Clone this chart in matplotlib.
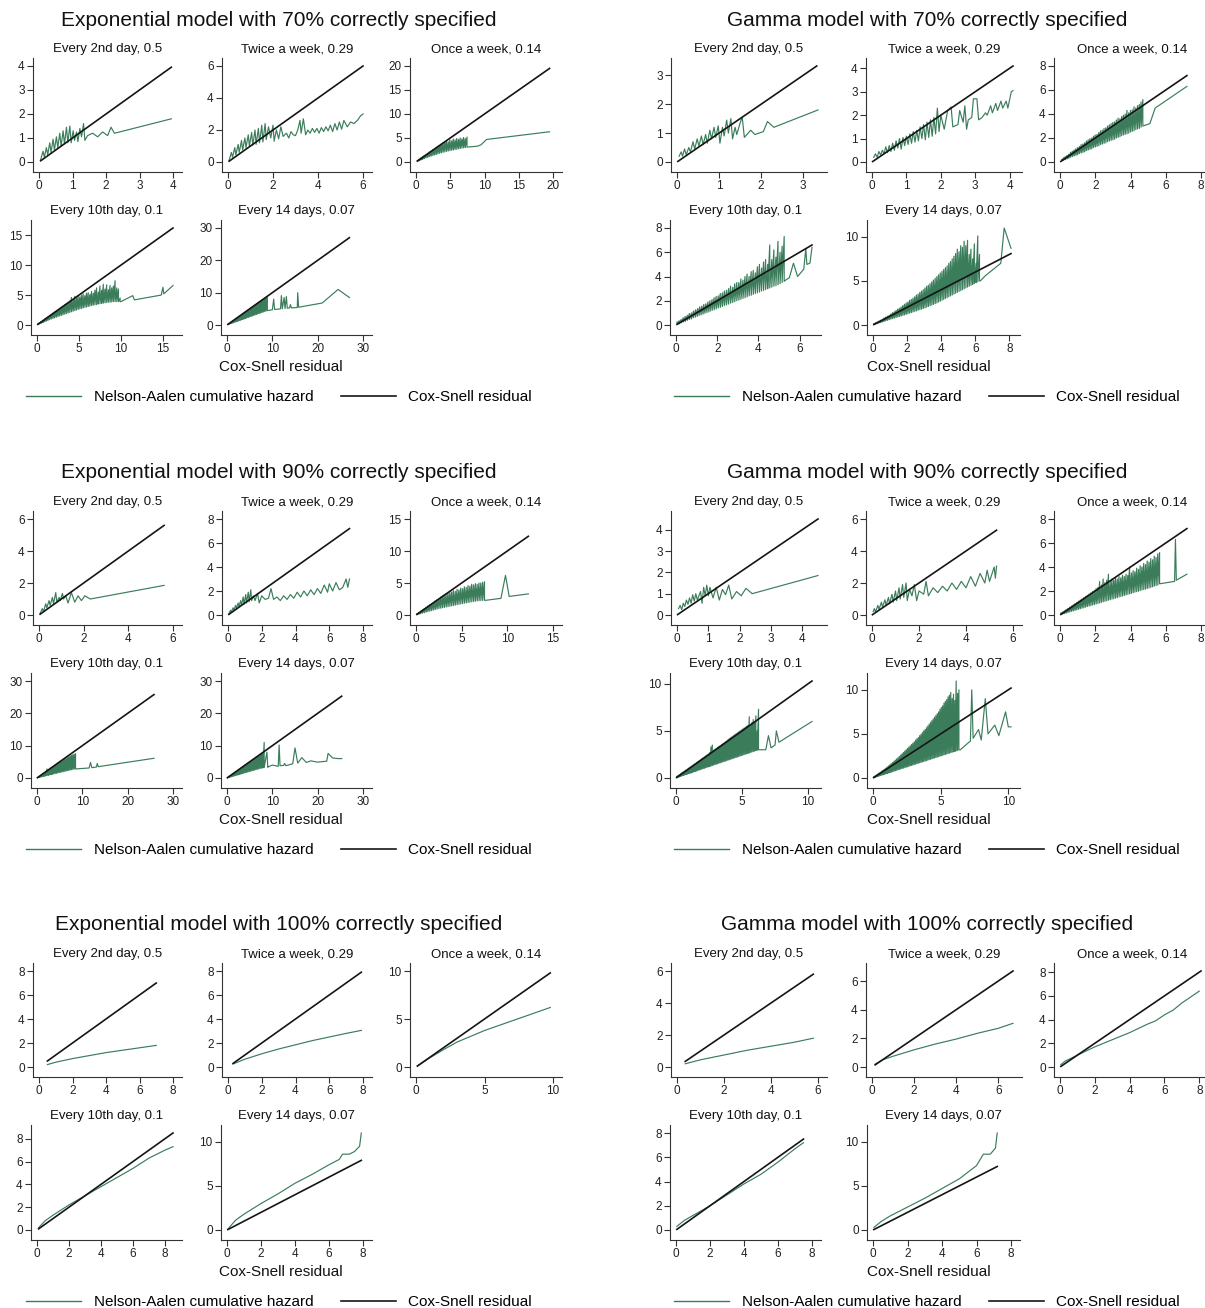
import matplotlib
matplotlib.use("Agg")
import matplotlib.pyplot as plt
from matplotlib.lines import Line2D

plt.rcParams['font.family'] = ['Liberation Sans', 'DejaVu Sans']

W, H = 1205, 1308
GREEN = '#3b7d5b'
BLACK = '#151515'

block_titles = ["Exponential model with 70% correctly specified",
                "Gamma model with 70% correctly specified",
                "Exponential model with 90% correctly specified",
                "Gamma model with 90% correctly specified",
                "Exponential model with 100% correctly specified",
                "Gamma model with 100% correctly specified"]
panel_titles = ["Every 2nd day, 0.5", "Twice a week, 0.29", "Once a week, 0.14",
                "Every 10th day, 0.1", "Every 14 days, 0.07"]

# Nelson-Aalen cumulative hazard against Cox-Snell residual.
# *_teeth: (residual, high, low) for the saw-tooth part, *_tail / plain lists: (residual, hazard)
# *_cs: first and last Cox-Snell residual (reference line y = x)

# ---- exponential, 70% ----
e70_d2 = [(0.05,0.1),(0.12,0.45),(0.16,0.2),(0.22,0.6),(0.26,0.3),(0.32,0.8),(0.36,0.4),(0.42,0.95),
          (0.46,0.5),(0.52,1.05),(0.56,0.6),(0.62,1.2),(0.66,0.65),(0.72,1.3),(0.76,0.75),(0.82,1.45),
          (0.86,0.8),(0.92,1.5),(0.96,0.8),(1.02,1.3),(1.06,0.9),(1.12,1.25),(1.16,0.85),(1.22,1.4),
          (1.27,1.05),(1.33,1.6),(1.37,0.9),(1.45,1.1),(1.6,1.2),(1.75,1.05),(1.9,1.25),(2.05,1.1),
          (2.15,1.45),(2.25,1.2),(2.4,1.25),(3.95,1.8)]
e70_d2_cs = [0.05, 3.95]
e70_d2_ticks = ([0, 1, 2, 3, 4], [0, 1, 2, 3, 4])

e70_tw = [(0.05,0.1),(0.15,0.6),(0.2,0.3),(0.3,0.9),(0.35,0.45),(0.45,1.1),(0.5,0.6),(0.6,1.35),
          (0.65,0.75),(0.75,1.5),(0.8,0.9),(0.9,1.7),(0.95,1.0),(1.05,1.85),(1.1,1.05),(1.2,2.0),
          (1.25,1.1),(1.35,2.1),(1.4,1.2),(1.5,2.3),(1.55,1.25),(1.65,2.4),(1.7,1.4),(1.8,2.2),
          (1.9,1.5),(2.0,2.3),(2.05,1.3),(2.15,2.0),(2.25,1.45),(2.35,2.2),(2.45,1.6),(2.6,1.8),
          (2.7,1.5),(2.8,1.9),(2.9,1.7),(3.0,1.65),(3.1,2.0),(3.2,2.6),(3.25,1.8),(3.35,2.7),
          (3.45,1.7),(3.55,2.0),(3.65,1.8),(3.75,2.1),(3.85,1.85),(3.95,2.1),(4.05,1.8),(4.15,2.15),
          (4.25,1.9),(4.35,2.2),(4.45,1.95),(4.55,2.3),(4.65,1.9),(4.75,2.4),(4.85,2.0),(4.95,2.5),
          (5.05,2.05),(5.15,2.6),(5.3,2.2),(5.45,2.5),(5.6,2.4),(5.75,2.6),(5.9,2.9),(6.0,3.0)]
e70_tw_cs = [0.05, 6.0]
e70_tw_ticks = ([0, 2, 4, 6], [0, 2, 4, 6])

e70_ow_teeth = [(0.2,.3,.1),(0.45,.6,.25),(0.7,.85,.4),(0.95,1.1,.55),(1.2,1.35,.7),(1.45,1.6,.85),
                (1.7,1.8,.95),(1.95,2.1,1.1),(2.2,2.3,1.2),(2.45,2.6,1.35),(2.7,2.8,1.45),(2.95,3.1,1.55),
                (3.2,3.3,1.7),(3.45,3.5,1.8),(3.7,3.8,1.9),(3.95,4.0,2.0),(4.2,4.1,2.1),(4.45,4.4,2.2),
                (4.7,4.2,2.3),(4.95,4.6,2.35),(5.2,4.4,2.45),(5.45,4.8,2.5),(5.7,4.6,2.6),(5.95,4.9,2.65),
                (6.2,4.7,2.75),(6.45,5.0,2.8),(6.7,4.8,2.9),(6.95,5.1,2.95),(7.2,4.9,3.0),(7.45,5.2,3.1)]
e70_ow_tail = [(9.0,3.3),(9.5,3.6),(10.3,4.7),(19.5,6.3)]
e70_ow_cs = [0.2, 19.5]
e70_ow_ticks = ([0, 5, 10, 15, 20], [0, 5, 10, 15, 20])

e70_d10_teeth = [(0.1,.2,.1),(0.3,.4,.2),(0.5,.6,.3),(0.7,.8,.4),(0.9,1.0,.55),(1.1,1.2,.65),(1.3,1.4,.75),
                 (1.5,1.6,.9),(1.7,1.8,1.0),(1.9,2.0,1.1),(2.1,2.2,1.2),(2.3,2.4,1.3),(2.5,2.6,1.4),
                 (2.7,2.8,1.5),(2.9,3.0,1.6),(3.1,3.2,1.7),(3.3,3.4,1.8),(3.5,3.6,1.9),(3.7,3.8,2.0),
                 (3.9,4.0,2.1),(4.1,4.6,2.2),(4.3,4.3,2.3),(4.5,4.8,2.4),(4.7,4.5,2.5),(4.9,4.9,2.6),
                 (5.1,4.7,2.7),(5.3,5.0,2.75),(5.5,5.2,2.85),(5.7,4.9,2.95),(5.9,5.3,3.0),(6.1,5.4,3.1),
                 (6.3,5.1,3.15),(6.5,5.6,3.25),(6.7,5.3,3.3),(6.9,5.8,3.35),(7.1,6.2,3.4),(7.3,5.5,3.5),
                 (7.5,6.5,3.55),(7.7,5.8,3.6),(7.9,6.8,3.65),(8.1,6.0,3.7),(8.3,6.7,3.75),(8.5,5.9,3.8),
                 (8.7,6.6,3.8),(8.9,6.2,3.85),(9.1,6.5,3.9),(9.3,7.4,3.9),(9.5,6.2,3.9),(9.7,6.0,3.9),
                 (9.9,4.5,3.9)]
e70_d10_tail = [(10.0,3.9),(11.4,4.9),(11.6,4.2),(14.8,5.0),(15.0,6.3),(15.1,5.2),(16.2,6.6)]
e70_d10_cs = [0.1, 16.2]
e70_d10_ticks = ([0, 5, 10, 15], [0, 5, 10, 15])

e70_d14_teeth = [(0.2,.2,.1),(0.5,.5,.25),(0.8,.8,.4),(1.1,1.1,.55),(1.4,1.4,.7),(1.7,1.7,.85),(2.0,2.0,1.0),
                 (2.3,2.3,1.15),(2.6,2.6,1.3),(2.9,2.9,1.45),(3.2,3.2,1.6),(3.5,3.5,1.75),(3.8,3.8,1.9),
                 (4.1,4.1,2.05),(4.4,4.4,2.2),(4.7,4.7,2.35),(5.0,5.0,2.5),(5.3,5.3,2.65),(5.6,5.6,2.8),
                 (5.9,5.9,2.95),(6.2,6.2,3.1),(6.5,6.5,3.25),(6.8,6.8,3.4),(7.1,7.1,3.55),(7.4,7.4,3.7),
                 (7.7,7.7,3.85),(8.0,8.0,4.0),(8.3,8.3,4.15),(8.6,8.6,4.3),(8.9,8.8,4.45)]
e70_d14_tail = [(9.1,4.5),(10.0,4.7),(10.3,8.0),(10.5,4.8),(11.8,5.0),(12.0,9.1),(12.2,5.0),(12.6,8.5),
                (12.8,5.1),(13.1,8.8),(13.3,5.2),(13.8,5.3),(14.0,6.3),(14.2,5.3),(15.5,5.4),(15.6,10.0),
                (15.8,5.5),(21.0,6.8),(24.5,11.0),(27.0,8.5)]
e70_d14_cs = [0.2, 27.0]
e70_d14_ticks = ([0, 10, 20, 30], [0, 10, 20, 30])

# ---- gamma, 70% ----
g70_d2 = [(0.05,0.2),(0.1,0.35),(0.13,0.2),(0.18,0.45),(0.22,0.25),(0.28,0.5),(0.32,0.35),(0.38,0.7),
          (0.42,0.45),(0.48,0.8),(0.52,0.55),(0.58,0.9),(0.62,0.6),(0.68,0.95),(0.72,0.65),(0.78,1.1),
          (0.82,0.8),(0.88,1.2),(0.92,0.85),(0.98,1.25),(1.02,0.65),(1.08,1.2),(1.12,0.9),(1.18,1.45),
          (1.22,1.0),(1.28,1.5),(1.32,0.8),(1.38,1.2),(1.42,0.95),(1.5,1.35),(1.55,1.55),(1.6,0.85),
          (1.75,1.1),(1.85,0.95),(2.05,1.05),(2.15,1.4),(2.3,1.2),(3.35,1.8)]
g70_d2_cs = [0.02, 3.32]
g70_d2_ticks = ([0, 1, 2, 3], [0, 1, 2, 3])

g70_tw = [(0.05,0.2),(0.1,0.35),(0.15,0.2),(0.2,0.45),(0.25,0.3),(0.3,0.5),(0.35,0.35),(0.4,0.65),
          (0.45,0.4),(0.5,0.7),(0.55,0.45),(0.6,0.8),(0.65,0.5),(0.7,0.9),(0.75,0.6),(0.8,1.0),
          (0.85,0.55),(0.9,1.05),(0.95,0.7),(1.0,1.1),(1.05,0.75),(1.1,1.2),(1.15,0.8),(1.2,1.3),
          (1.25,0.85),(1.3,1.35),(1.35,0.9),(1.4,1.5),(1.45,1.0),(1.5,1.6),(1.55,0.95),(1.6,1.7),
          (1.65,1.05),(1.7,1.8),(1.75,1.1),(1.8,1.9),(1.85,1.2),(1.9,2.3),(1.95,1.3),(2.0,2.0),
          (2.1,1.4),(2.2,2.2),(2.3,2.35),(2.35,1.5),(2.5,1.6),(2.55,2.2),(2.65,1.7),(2.7,2.4),
          (2.75,1.4),(2.8,1.8),(2.9,1.9),(2.95,2.7),(3.05,2.7),(3.1,1.8),(3.2,1.9),(3.3,2.1),
          (3.35,2.0),(3.45,2.4),(3.5,2.1),(3.6,2.5),(3.65,2.2),(3.75,2.6),(3.8,2.3),(3.9,2.6),
          (3.95,2.3),(4.05,3.0),(4.1,3.05)]
g70_tw_cs = [0.02, 4.1]
g70_tw_ticks = ([0, 1, 2, 3, 4], [0, 1, 2, 3, 4])

g70_ow_teeth = [(0.1,.2,.1),(0.2,.35,.15),(0.3,.45,.2),(0.4,.55,.25),(0.5,.65,.3),(0.6,.8,.4),(0.7,.9,.45),
                (0.8,1.0,.5),(0.9,1.1,.55),(1.0,1.2,.6),(1.1,1.3,.7),(1.2,1.45,.75),(1.3,1.5,.8),
                (1.4,1.6,.85),(1.5,1.75,.95),(1.6,1.85,1.0),(1.7,1.95,1.05),(1.8,2.0,1.1),(1.9,2.15,1.2),
                (2.0,2.25,1.25),(2.1,2.3,1.3),(2.2,2.45,1.35),(2.3,2.6,1.45),(2.4,2.65,1.5),(2.5,2.8,1.55),
                (2.6,2.85,1.6),(2.7,3.0,1.7),(2.8,3.1,1.75),(2.9,3.2,1.8),(3.0,3.3,1.85),(3.1,3.35,1.9),
                (3.2,3.5,2.0),(3.3,3.65,2.05),(3.4,3.6,2.1),(3.5,3.8,2.2),(3.6,3.9,2.25),(3.7,4.0,2.3),
                (3.8,4.3,2.35),(3.9,4.1,2.4),(4.0,4.3,2.5),(4.1,4.35,2.55),(4.2,4.6,2.6),(4.3,4.5,2.7),
                (4.4,4.7,2.75),(4.5,4.8,2.8),(4.6,5.0,2.9),(4.7,5.2,3.0)]
g70_ow_tail = [(5.1,3.2),(5.4,4.5),(7.2,6.3)]
g70_ow_cs = [0.05, 7.2]
g70_ow_ticks = ([0, 2, 4, 6, 8], [0, 2, 4, 6, 8])

g70_d10_teeth = [(0.05,.25,.05),(0.15,.35,.1),(0.25,.45,.18),(0.35,.6,.25),(0.45,.7,.3),(0.55,.8,.38),
                 (0.65,.95,.45),(0.75,1.0,.5),(0.85,1.15,.6),(0.95,1.25,.65),(1.05,1.35,.72),(1.15,1.5,.8),
                 (1.25,1.55,.85),(1.35,1.7,.92),(1.45,1.75,1.0),(1.55,1.9,1.05),(1.65,2.0,1.12),
                 (1.75,2.1,1.2),(1.85,2.25,1.25),(1.95,2.35,1.32),(2.05,2.4,1.4),(2.15,2.6,1.45),
                 (2.25,2.65,1.52),(2.35,2.8,1.6),(2.45,2.85,1.65),(2.55,3.0,1.72),(2.65,3.2,1.8),
                 (2.75,3.1,1.85),(2.85,3.4,1.92),(2.95,3.5,2.0),(3.05,3.5,2.05),(3.15,3.8,2.12),
                 (3.25,3.7,2.2),(3.35,4.0,2.25),(3.45,4.2,2.32),(3.55,4.0,2.4),(3.65,4.4,2.45),
                 (3.75,4.5,2.52),(3.85,4.3,2.6),(3.95,4.8,2.65),(4.05,5.0,2.72),(4.15,4.7,2.8),
                 (4.25,5.2,2.85),(4.35,5.4,2.92),(4.45,5.0,3.0),(4.55,6.6,3.05),(4.65,5.4,3.12),
                 (4.75,6.2,3.2),(4.85,5.6,3.25),(4.95,6.9,3.32),(5.05,6.0,3.4),(5.15,6.5,3.5),(5.25,7.3,3.6)]
g70_d10_tail = [(5.32,3.7),(5.5,3.9),(5.7,5.1),(5.9,4.0),(6.2,4.6),(6.3,6.3),(6.35,5.0),(6.5,5.1),(6.6,6.4)]
g70_d10_cs = [0.05, 6.6]
g70_d10_ticks = ([0, 2, 4, 6], [0, 2, 4, 6, 8])

g70_d14_teeth = [(0.05,.15,.05),(0.15,.25,.1),(0.25,.35,.15),(0.35,.45,.22),(0.45,.55,.28),(0.55,.65,.35),
                 (0.65,.8,.4),(0.75,.9,.47),(0.85,1.0,.53),(0.95,1.1,.6),(1.05,1.25,.66),(1.15,1.4,.72),
                 (1.25,1.5,.78),(1.35,1.65,.84),(1.45,1.8,.9),(1.55,1.9,.96),(1.65,2.05,1.02),
                 (1.75,2.2,1.08),(1.85,2.35,1.14),(1.95,2.5,1.2),(2.05,2.6,1.27),(2.15,2.8,1.34),
                 (2.25,2.9,1.4),(2.35,3.05,1.47),(2.45,3.2,1.54),(2.55,3.4,1.6),(2.65,3.5,1.67),
                 (2.75,3.7,1.74),(2.85,3.85,1.8),(2.95,4.0,1.87),(3.05,4.2,1.94),(3.15,4.4,2.02),
                 (3.25,4.5,2.1),(3.35,4.7,2.18),(3.45,4.9,2.26),(3.55,5.1,2.34),(3.65,5.3,2.42),
                 (3.75,5.5,2.5),(3.85,5.7,2.6),(3.95,5.9,2.7),(4.05,6.1,2.8),(4.15,6.3,2.9),(4.25,6.5,3.0),
                 (4.35,6.7,3.1),(4.45,7.0,3.2),(4.55,7.2,3.3),(4.65,7.5,3.4),(4.75,7.8,3.5),(4.85,8.1,3.6),
                 (4.95,8.6,3.7),(5.05,8.3,3.8),(5.15,9.0,3.9),(5.25,8.8,4.0),(5.35,9.5,4.1),(5.45,9.0,4.2),
                 (5.55,9.6,4.3),(5.65,8.0,4.4),(5.75,8.6,4.5),(5.85,7.5,4.6),(5.95,9.2,4.7),(6.05,7.0,4.8),
                 (6.15,10.1,4.9),(6.25,8.0,5.0)]
g70_d14_tail = [(6.3,5.0),(6.6,5.6),(7.5,7.0),(7.7,11.0),(8.1,8.7)]
g70_d14_cs = [0.05, 8.1]
g70_d14_ticks = ([0, 2, 4, 6, 8], [0, 5, 10])

# ---- exponential, 90% ----
e90_d2 = [(0.05,0.1),(0.15,0.4),(0.2,0.2),(0.3,0.7),(0.35,0.45),(0.45,0.9),(0.5,0.6),(0.6,1.1),
          (0.65,0.7),(0.75,1.4),(0.8,0.8),(0.9,1.1),(0.95,0.9),(1.05,1.35),(1.1,1.0),(1.2,1.2),
          (1.3,0.75),(1.45,1.4),(1.6,0.8),(1.75,1.2),(1.9,0.9),(2.05,1.2),(2.3,1.0),(5.6,1.85)]
e90_d2_cs = [0.05, 5.6]
e90_d2_ticks = ([0, 2, 4, 6], [0, 2, 4, 6])

e90_tw = [(0.05,0.1),(0.15,0.4),(0.2,0.25),(0.3,0.6),(0.35,0.4),(0.45,0.8),(0.5,0.55),(0.6,1.0),
          (0.65,0.7),(0.75,1.2),(0.8,0.8),(0.9,1.5),(0.95,0.9),(1.05,1.7),(1.1,1.0),(1.2,1.9),
          (1.25,1.1),(1.35,2.1),(1.4,1.2),(1.5,1.6),(1.6,1.2),(1.75,1.8),(1.85,1.0),(2.0,1.6),
          (2.2,1.3),(2.4,1.4),(2.55,2.2),(2.7,1.3),(2.9,1.5),(3.1,1.2),(3.3,1.6),(3.5,1.3),
          (3.7,1.7),(3.9,1.4),(4.1,1.9),(4.3,1.5),(4.5,2.0),(4.7,1.6),(4.9,2.1),(5.1,1.7),
          (5.3,2.2),(5.5,1.8),(5.7,2.5),(5.9,1.9),(6.0,2.6),(6.2,2.0),(6.4,2.7),(6.6,2.1),
          (6.8,2.3),(7.0,3.0),(7.1,2.3),(7.2,3.0)]
e90_tw_cs = [0.05, 7.2]
e90_tw_ticks = ([0, 2, 4, 6, 8], [0, 2, 4, 6, 8])

e90_ow_teeth = [(0.1,.2,.05),(0.3,.4,.12),(0.5,.6,.2),(0.7,.8,.28),(0.9,1.0,.36),(1.1,1.2,.44),(1.3,1.4,.52),
                (1.5,1.6,.6),(1.7,1.8,.68),(1.9,2.0,.76),(2.1,2.2,.84),(2.3,2.4,.92),(2.5,2.6,1.0),
                (2.7,2.8,1.06),(2.9,3.0,1.12),(3.1,3.2,1.18),(3.3,3.3,1.24),(3.5,3.4,1.3),(3.7,3.5,1.36),
                (3.9,3.6,1.42),(4.1,3.8,1.48),(4.3,3.7,1.54),(4.5,4.0,1.6),(4.7,3.9,1.66),(4.9,4.2,1.72),
                (5.1,4.1,1.78),(5.3,4.4,1.84),(5.5,4.3,1.9),(5.7,4.6,1.95),(5.9,4.5,2.0),(6.1,4.8,2.05),
                (6.3,4.7,2.1),(6.5,4.9,2.15),(6.7,4.8,2.2),(6.9,5.0,2.22),(7.1,5.0,2.25),(7.3,5.1,2.28),
                (7.5,5.2,2.3)]
e90_ow_tail = [(7.65,2.3),(9.3,2.6),(9.8,6.2),(10.2,2.9),(12.3,3.3)]
e90_ow_cs = [0.1, 12.3]
e90_ow_ticks = ([0, 5, 10, 15], [0, 5, 10, 15])

e90_d10_teeth = [(0.1,.1,.05),(0.4,.4,.15),(0.7,.7,.25),(1.0,1.0,.35),(1.3,1.3,.45),(1.6,1.6,.55),
                 (1.9,1.9,.65),(2.2,2.8,.75),(2.5,2.5,.85),(2.8,2.8,.95),(3.1,3.1,1.05),(3.4,3.4,1.15),
                 (3.7,3.7,1.25),(4.0,4.0,1.35),(4.3,4.3,1.45),(4.6,4.6,1.55),(4.9,4.9,1.65),(5.2,5.1,1.75),
                 (5.5,5.3,1.85),(5.8,5.5,1.95),(6.1,5.8,2.05),(6.4,6.0,2.15),(6.7,6.3,2.25),(7.0,6.5,2.35),
                 (7.3,6.8,2.45),(7.6,7.0,2.55),(7.9,7.2,2.65),(8.2,7.4,2.75),(8.5,7.5,2.8)]
e90_d10_tail = [(11.5,3.1),(11.8,4.8),(12.1,3.2),(13.1,3.4),(13.3,4.5),(13.5,3.5),(25.8,6.1)]
e90_d10_cs = [0.1, 25.8]
e90_d10_ticks = ([0, 10, 20, 30], [0, 10, 20, 30])

e90_d14_teeth = [(0.1,.1,.05),(0.4,.4,.15),(0.7,.7,.28),(1.0,1.0,.4),(1.3,1.3,.52),(1.6,1.6,.64),
                 (1.9,1.9,.76),(2.2,2.2,.88),(2.5,2.5,1.0),(2.8,2.8,1.12),(3.1,3.1,1.24),(3.4,3.4,1.36),
                 (3.7,3.7,1.48),(4.0,4.0,1.6),(4.3,4.3,1.72),(4.6,4.6,1.84),(4.9,4.9,1.96),(5.2,5.2,2.08),
                 (5.5,5.5,2.2),(5.8,5.8,2.32),(6.1,6.1,2.44),(6.4,6.4,2.56),(6.7,6.7,2.68),(7.0,7.0,2.8),
                 (7.3,7.2,2.92),(7.6,7.5,3.04),(7.9,7.8,3.1),(8.2,11.0,3.2)]
e90_d14_tail = [(8.8,8.0),(9.0,3.3),(9.2,3.5),(10.0,4.0),(11.3,3.6),(11.5,10.2),(11.7,3.8),(12.5,3.9),
                (12.7,4.5),(13.0,3.8),(14.5,4.4),(15.0,9.3),(15.6,4.6),(16.5,6.3),(17.5,4.8),(18.5,5.3),
                (20.0,4.9),(22.0,5.2),(22.3,7.6),(23.3,6.2),(24.5,6.0),(25.3,6.0)]
e90_d14_cs = [0.1, 25.3]
e90_d14_ticks = ([0, 10, 20, 30], [0, 10, 20, 30])

# ---- gamma, 90% ----
g90_d2 = [(0.05,0.3),(0.1,0.45),(0.15,0.25),(0.2,0.55),(0.25,0.4),(0.3,0.7),(0.35,0.5),(0.4,0.8),
          (0.45,0.55),(0.5,0.95),(0.55,0.65),(0.6,1.0),(0.65,0.7),(0.75,1.1),(0.8,0.55),(0.85,1.3),
          (0.9,0.9),(0.95,1.4),(1.0,0.9),(1.05,1.3),(1.15,0.8),(1.25,1.3),(1.35,0.7),(1.45,1.2),
          (1.55,0.95),(1.65,1.4),(1.75,0.75),(1.9,1.1),(2.05,0.9),(2.2,1.25),(2.4,1.0),(4.5,1.85)]
g90_d2_cs = [0.02, 4.5]
g90_d2_ticks = ([0, 1, 2, 3, 4], [0, 1, 2, 3, 4])

g90_tw = [(0.05,0.2),(0.1,0.4),(0.15,0.2),(0.25,0.6),(0.3,0.35),(0.4,0.8),(0.45,0.5),(0.55,0.95),
          (0.6,0.6),(0.7,1.1),(0.75,0.7),(0.85,1.3),(0.9,0.8),(1.0,1.5),(1.05,0.9),(1.15,1.7),
          (1.2,1.0),(1.3,1.9),(1.35,1.1),(1.45,2.0),(1.5,0.9),(1.6,1.6),(1.7,1.2),(1.8,1.9),
          (1.9,0.9),(2.0,1.5),(2.2,1.3),(2.3,2.1),(2.4,1.2),(2.6,1.7),(2.8,1.4),(3.0,1.8),
          (3.2,1.5),(3.4,2.0),(3.6,1.6),(3.8,2.1),(4.0,1.7),(4.2,2.4),(4.4,1.8),(4.6,2.6),
          (4.8,2.0),(4.9,2.8),(5.0,2.1),(5.2,3.0),(5.25,2.3),(5.3,3.05)]
g90_tw_cs = [0.02, 5.3]
g90_tw_ticks = ([0, 2, 4, 6], [0, 2, 4, 6])

g90_ow_teeth = [(0.05,.15,.05),(0.15,.25,.08),(0.25,.35,.12),(0.35,.45,.16),(0.45,.55,.2),(0.55,.65,.25),
                (0.65,.75,.3),(0.75,.85,.34),(0.85,.95,.38),(0.95,1.05,.43),(1.05,1.15,.47),(1.15,1.25,.52),
                (1.25,1.35,.56),(1.35,1.45,.6),(1.45,1.55,.65),(1.55,1.65,.7),(1.65,1.75,.74),(1.75,1.85,.78),
                (1.85,1.95,.83),(1.95,2.05,.87),(2.05,2.2,.92),(2.15,2.3,.96),(2.25,2.8,1.0),(2.35,2.5,1.05),
                (2.45,3.0,1.1),(2.55,2.7,1.14),(2.65,2.9,1.18),(2.75,3.4,1.23),(2.85,2.8,1.27),(2.95,3.0,1.32),
                (3.05,2.9,1.36),(3.15,3.1,1.4),(3.25,3.0,1.45),(3.35,3.2,1.5),(3.45,3.1,1.54),(3.55,3.3,1.58),
                (3.65,3.2,1.63),(3.75,3.4,1.67),(3.85,3.3,1.72),(3.95,4.0,1.76),(4.05,3.5,1.8),(4.15,3.7,1.85),
                (4.25,3.6,1.9),(4.35,3.9,1.94),(4.45,3.8,1.98),(4.55,4.1,2.03),(4.65,4.0,2.08),(4.75,4.3,2.12),
                (4.85,4.2,2.16),(4.95,4.5,2.2),(5.05,4.4,2.25),(5.15,4.7,2.3),(5.25,4.6,2.35),(5.35,4.9,2.4),
                (5.45,4.8,2.45),(5.55,5.1,2.5),(5.65,5.2,2.6)]
g90_ow_tail = [(6.5,2.8),(6.55,6.3),(6.6,2.9),(7.2,3.4)]
g90_ow_cs = [0.05, 7.2]
g90_ow_ticks = ([0, 2, 4, 6, 8], [0, 2, 4, 6, 8])

g90_d10_teeth = [(0.05,.15,.03),(0.15,.25,.07),(0.25,.35,.12),(0.35,.45,.17),(0.45,.55,.22),(0.55,.65,.27),
                 (0.65,.75,.31),(0.75,.85,.36),(0.85,.95,.41),(0.95,1.05,.46),(1.05,1.15,.5),(1.15,1.25,.55),
                 (1.25,1.35,.6),(1.35,1.45,.65),(1.45,1.55,.7),(1.55,1.65,.74),(1.65,1.75,.79),(1.75,1.85,.84),
                 (1.85,1.95,.89),(1.95,2.05,.94),(2.05,2.15,.98),(2.15,2.25,1.03),(2.25,2.35,1.08),
                 (2.35,2.45,1.13),(2.45,2.55,1.18),(2.55,2.7,1.22),(2.65,3.3,1.27),(2.75,3.5,1.32),
                 (2.85,2.95,1.37),(2.95,3.05,1.42),(3.05,3.15,1.46),(3.15,3.25,1.51),(3.25,3.35,1.56),
                 (3.35,3.45,1.61),(3.45,3.55,1.66),(3.55,3.65,1.7),(3.65,3.75,1.75),(3.75,3.85,1.8),
                 (3.85,3.95,1.85),(3.95,4.1,1.9),(4.05,4.2,1.94),(4.15,4.3,1.99),(4.25,4.4,2.04),
                 (4.35,4.5,2.09),(4.45,4.6,2.14),(4.55,4.7,2.18),(4.65,4.8,2.23),(4.75,4.9,2.28),
                 (4.85,5.0,2.33),(4.95,5.1,2.38),(5.05,5.2,2.42),(5.15,5.3,2.47),(5.25,5.4,2.52),
                 (5.35,5.5,2.57),(5.45,5.6,2.62),(5.55,6.5,2.66),(5.65,5.6,2.71),(5.75,5.9,2.76),
                 (5.85,6.2,2.81),(5.95,6.0,2.86),(6.05,6.6,2.9),(6.15,5.0,2.95),(6.25,7.3,3.0)]
g90_d10_tail = [(6.35,3.0),(6.8,3.0),(7.0,4.5),(7.2,3.2),(7.5,3.5),(7.6,5.0),(7.8,3.8),(10.3,6.0)]
g90_d10_cs = [0.05, 10.3]
g90_d10_ticks = ([0, 5, 10], [0, 5, 10])

g90_d14_teeth = [(0.05,.12,.03),(0.15,.22,.07),(0.25,.33,.12),(0.35,.44,.17),(0.45,.55,.22),(0.55,.66,.27),
                 (0.65,.78,.32),(0.75,.9,.37),(0.85,1.0,.42),(0.95,1.12,.47),(1.05,1.25,.52),(1.15,1.37,.57),
                 (1.25,1.5,.62),(1.35,1.63,.67),(1.45,1.76,.72),(1.55,1.9,.77),(1.65,2.03,.82),(1.75,2.17,.87),
                 (1.85,2.3,.92),(1.95,2.45,.97),(2.05,2.6,1.02),(2.15,2.75,1.07),(2.25,2.9,1.12),
                 (2.35,3.05,1.17),(2.45,3.2,1.22),(2.55,3.35,1.27),(2.65,3.5,1.32),(2.75,3.65,1.37),
                 (2.85,3.8,1.42),(2.95,3.95,1.47),(3.05,4.1,1.52),(3.15,4.3,1.57),(3.25,4.45,1.62),
                 (3.35,4.6,1.67),(3.45,4.8,1.72),(3.55,4.95,1.77),(3.65,5.15,1.82),(3.75,5.35,1.87),
                 (3.85,5.5,1.92),(3.95,5.7,1.97),(4.05,5.9,2.02),(4.15,6.1,2.07),(4.25,6.3,2.12),
                 (4.35,6.5,2.17),(4.45,6.7,2.22),(4.55,6.9,2.27),(4.65,7.1,2.32),(4.75,7.3,2.37),
                 (4.85,7.5,2.42),(4.95,7.8,2.47),(5.05,8.0,2.52),(5.15,8.2,2.57),(5.25,8.5,2.62),
                 (5.35,8.7,2.67),(5.45,8.9,2.72),(5.55,9.2,2.77),(5.65,9.4,2.82),(5.75,9.7,2.87),
                 (5.85,9.0,2.92),(5.95,9.5,2.97),(6.05,8.8,3.02),(6.15,11.0,3.07),(6.25,9.6,3.12),
                 (6.35,10.0,3.2)]
g90_d14_tail = [(6.45,3.2),(7.2,4.2),(7.3,10.0),(7.4,4.5),(7.8,5.5),(8.0,4.3),(8.3,9.0),(8.5,5.0),
                (9.0,6.0),(9.3,4.8),(9.8,7.5),(10.0,5.8),(10.2,5.8)]
g90_d14_cs = [0.05, 10.2]
g90_d14_ticks = ([0, 5, 10], [0, 5, 10])

# ---- exponential, 100% ----
e100_d2 = [(0.5,0.2),(1,0.4),(2,0.7),(3,0.95),(4,1.2),(5,1.4),(6,1.6),(7,1.8)]
e100_d2_cs = [0.5, 7.0]
e100_d2_ticks = ([0, 2, 4, 6, 8], [0, 2, 4, 6, 8])

e100_tw = [(0.3,0.25),(1,0.65),(2,1.1),(3,1.5),(4,1.85),(5,2.2),(6,2.5),(7,2.8),(7.9,3.05)]
e100_tw_cs = [0.3, 7.9]
e100_tw_ticks = ([0, 2, 4, 6, 8], [0, 2, 4, 6, 8])

e100_ow = [(0.1,0.1),(1,0.95),(2,1.8),(3,2.6),(4,3.2),(5,3.8),(6,4.3),(7,4.8),(8,5.3),(9,5.8),(9.8,6.2)]
e100_ow_cs = [0.1, 9.8]
e100_ow_ticks = ([0, 5, 10], [0, 5, 10])

e100_d10 = [(0.1,0.2),(0.5,0.8),(1,1.3),(2,2.2),(3,3.0),(4,3.8),(5,4.6),(6,5.4),(7,6.3),(8,7.0),(8.5,7.3)]
e100_d10_cs = [0.1, 8.5]
e100_d10_ticks = ([0, 2, 4, 6, 8], [0, 2, 4, 6, 8])

e100_d14 = [(0.05,0.1),(0.5,1.1),(1,1.8),(2,3.0),(3,4.1),(4,5.3),(5,6.3),(6,7.4),(6.6,8.0),(6.8,8.6),
            (7.2,8.6),(7.5,8.9),(7.8,9.5),(7.9,11.0)]
e100_d14_cs = [0.05, 7.9]
e100_d14_ticks = ([0, 2, 4, 6, 8], [0, 5, 10])

# ---- gamma, 100% ----
g100_d2 = [(0.35,0.2),(1,0.45),(2,0.75),(3,1.05),(4,1.3),(5,1.55),(5.8,1.8)]
g100_d2_cs = [0.35, 5.8]
g100_d2_ticks = ([0, 2, 4, 6], [0, 2, 4, 6])

g100_tw = [(0.15,0.2),(0.5,0.5),(1,0.75),(2,1.2),(3,1.6),(4,1.95),(5,2.35),(6,2.7),(6.7,3.05)]
g100_tw_cs = [0.15, 6.7]
g100_tw_ticks = ([0, 2, 4, 6], [0, 2, 4, 6])

g100_ow = [(0.05,0.2),(0.3,0.5),(1,1.0),(2,1.7),(3,2.3),(4,2.9),(5,3.6),(5.5,3.9),(6,4.4),(6.5,4.8),
           (7,5.4),(8,6.4)]
g100_ow_cs = [0.05, 8.1]
g100_ow_ticks = ([0, 2, 4, 6, 8], [0, 2, 4, 6, 8])

g100_d10 = [(0.05,0.3),(0.5,0.8),(1,1.2),(2,2.0),(3,2.9),(4,3.8),(5,4.6),(6,5.6),(7,6.7),(7.5,7.2)]
g100_d10_cs = [0.05, 7.5]
g100_d10_ticks = ([0, 2, 4, 6, 8], [0, 2, 4, 6, 8])

g100_d14 = [(0.05,0.3),(0.5,1.0),(1,1.6),(2,2.6),(3,3.6),(4,4.7),(5,5.8),(6,7.3),(6.4,8.6),(6.8,8.6),
            (7.1,9.3),(7.2,11.0)]
g100_d14_cs = [0.05, 7.2]
g100_d14_ticks = ([0, 2, 4, 6, 8], [0, 5, 10])


def sawtooth(teeth, tail):
    # each tooth: up to its high value, straight down to its low value
    pts = []
    for x, hi, lo in teeth:
        pts += [(x, hi), (x, lo)]
    return pts + tail


blocks = [
    [(e70_d2, e70_d2_cs, e70_d2_ticks), (e70_tw, e70_tw_cs, e70_tw_ticks),
     (sawtooth(e70_ow_teeth, e70_ow_tail), e70_ow_cs, e70_ow_ticks),
     (sawtooth(e70_d10_teeth, e70_d10_tail), e70_d10_cs, e70_d10_ticks),
     (sawtooth(e70_d14_teeth, e70_d14_tail), e70_d14_cs, e70_d14_ticks)],
    [(g70_d2, g70_d2_cs, g70_d2_ticks), (g70_tw, g70_tw_cs, g70_tw_ticks),
     (sawtooth(g70_ow_teeth, g70_ow_tail), g70_ow_cs, g70_ow_ticks),
     (sawtooth(g70_d10_teeth, g70_d10_tail), g70_d10_cs, g70_d10_ticks),
     (sawtooth(g70_d14_teeth, g70_d14_tail), g70_d14_cs, g70_d14_ticks)],
    [(e90_d2, e90_d2_cs, e90_d2_ticks), (e90_tw, e90_tw_cs, e90_tw_ticks),
     (sawtooth(e90_ow_teeth, e90_ow_tail), e90_ow_cs, e90_ow_ticks),
     (sawtooth(e90_d10_teeth, e90_d10_tail), e90_d10_cs, e90_d10_ticks),
     (sawtooth(e90_d14_teeth, e90_d14_tail), e90_d14_cs, e90_d14_ticks)],
    [(g90_d2, g90_d2_cs, g90_d2_ticks), (g90_tw, g90_tw_cs, g90_tw_ticks),
     (sawtooth(g90_ow_teeth, g90_ow_tail), g90_ow_cs, g90_ow_ticks),
     (sawtooth(g90_d10_teeth, g90_d10_tail), g90_d10_cs, g90_d10_ticks),
     (sawtooth(g90_d14_teeth, g90_d14_tail), g90_d14_cs, g90_d14_ticks)],
    [(e100_d2, e100_d2_cs, e100_d2_ticks), (e100_tw, e100_tw_cs, e100_tw_ticks),
     (e100_ow, e100_ow_cs, e100_ow_ticks), (e100_d10, e100_d10_cs, e100_d10_ticks),
     (e100_d14, e100_d14_cs, e100_d14_ticks)],
    [(g100_d2, g100_d2_cs, g100_d2_ticks), (g100_tw, g100_tw_cs, g100_tw_ticks),
     (g100_ow, g100_ow_cs, g100_ow_ticks), (g100_d10, g100_d10_cs, g100_d10_ticks),
     (g100_d14, g100_d14_cs, g100_d14_ticks)],
]

# pixel boxes (left, right) for the five panels of a left / right block
cols_left = [(33, 182), (222, 372), (410, 562), (31, 182), (221, 372)]
cols_right = [(671, 827), (866, 1022), (1054, 1210), (670, 821), (867, 1020)]
rows = [(58, 172), (58, 172), (58, 172), (220, 335), (220, 335)]
block_dy = [0, 453, 905]
block_cx = [279, 927]
PAD_L, PAD_R, PAD_B, PAD_T = 6, 9, 10, 8

fig = plt.figure(figsize=(W / 100, H / 100), dpi=100)
fig.patch.set_facecolor('white')


def add_panel(l, r, t, b):
    return fig.add_axes([l / W, 1 - b / H, (r - l) / W, (b - t) / H])


for k, panels in enumerate(blocks):
    bc, br = k % 2, k // 2
    dy = block_dy[br]
    cols = cols_left if bc == 0 else cols_right
    cx = block_cx[bc]
    fig.text(cx / W, 1 - (20 + dy) / H, block_titles[k], ha='center', va='center',
             fontsize=15, color='#111111')
    for i, (pts, cs, (xt, yt)) in enumerate(panels):
        l, r = cols[i]
        t, b = rows[i]
        t += dy
        b += dy
        ax = add_panel(l, r, t, b)
        ax.patch.set_alpha(0)
        xs = [p[0] for p in pts]
        ys = [p[1] for p in pts]
        ax.plot(xs, ys, color=GREEN, lw=0.85)
        ax.plot(cs, cs, color=BLACK, lw=1.2)
        xhi = max(xt[-1], max(xs), cs[1])
        yhi = max(yt[-1], max(ys), cs[1])
        sx = (r - l - PAD_L - PAD_R) / xhi
        sy = (b - t - PAD_B - PAD_T) / yhi
        ax.set_xlim(-PAD_L / sx, xhi + PAD_R / sx)
        ax.set_ylim(-PAD_B / sy, yhi + PAD_T / sy)
        ax.set_xticks(xt)
        ax.set_yticks(yt)
        for s in ('top', 'right'):
            ax.spines[s].set_visible(False)
        for s in ('left', 'bottom'):
            ax.spines[s].set_color('#333333')
            ax.spines[s].set_linewidth(0.8)
        ax.tick_params(direction='out', length=4, width=0.8, color='#333333',
                       labelsize=8.5, labelcolor='#222222', pad=2)
        ax.set_title(panel_titles[i], fontsize=9.5, color='#111111', pad=4)
    fig.text(cx / W + 2 / W, 1 - (367 + dy) / H, "Cox-Snell residual", ha='center', va='center',
             fontsize=11, color='#111111')
    handles = [Line2D([], [], color=GREEN, lw=1.0), Line2D([], [], color=BLACK, lw=1.2)]
    fig.legend(handles, ["Nelson-Aalen cumulative hazard", "Cox-Snell residual"],
               loc='center', bbox_to_anchor=(cx / W, 1 - (397 + dy) / H), ncol=2,
               frameon=False, fontsize=11, handlelength=3.6, handletextpad=0.8,
               columnspacing=1.8, borderaxespad=0, borderpad=0)

fig.savefig("out.png", dpi=100, facecolor='white')
